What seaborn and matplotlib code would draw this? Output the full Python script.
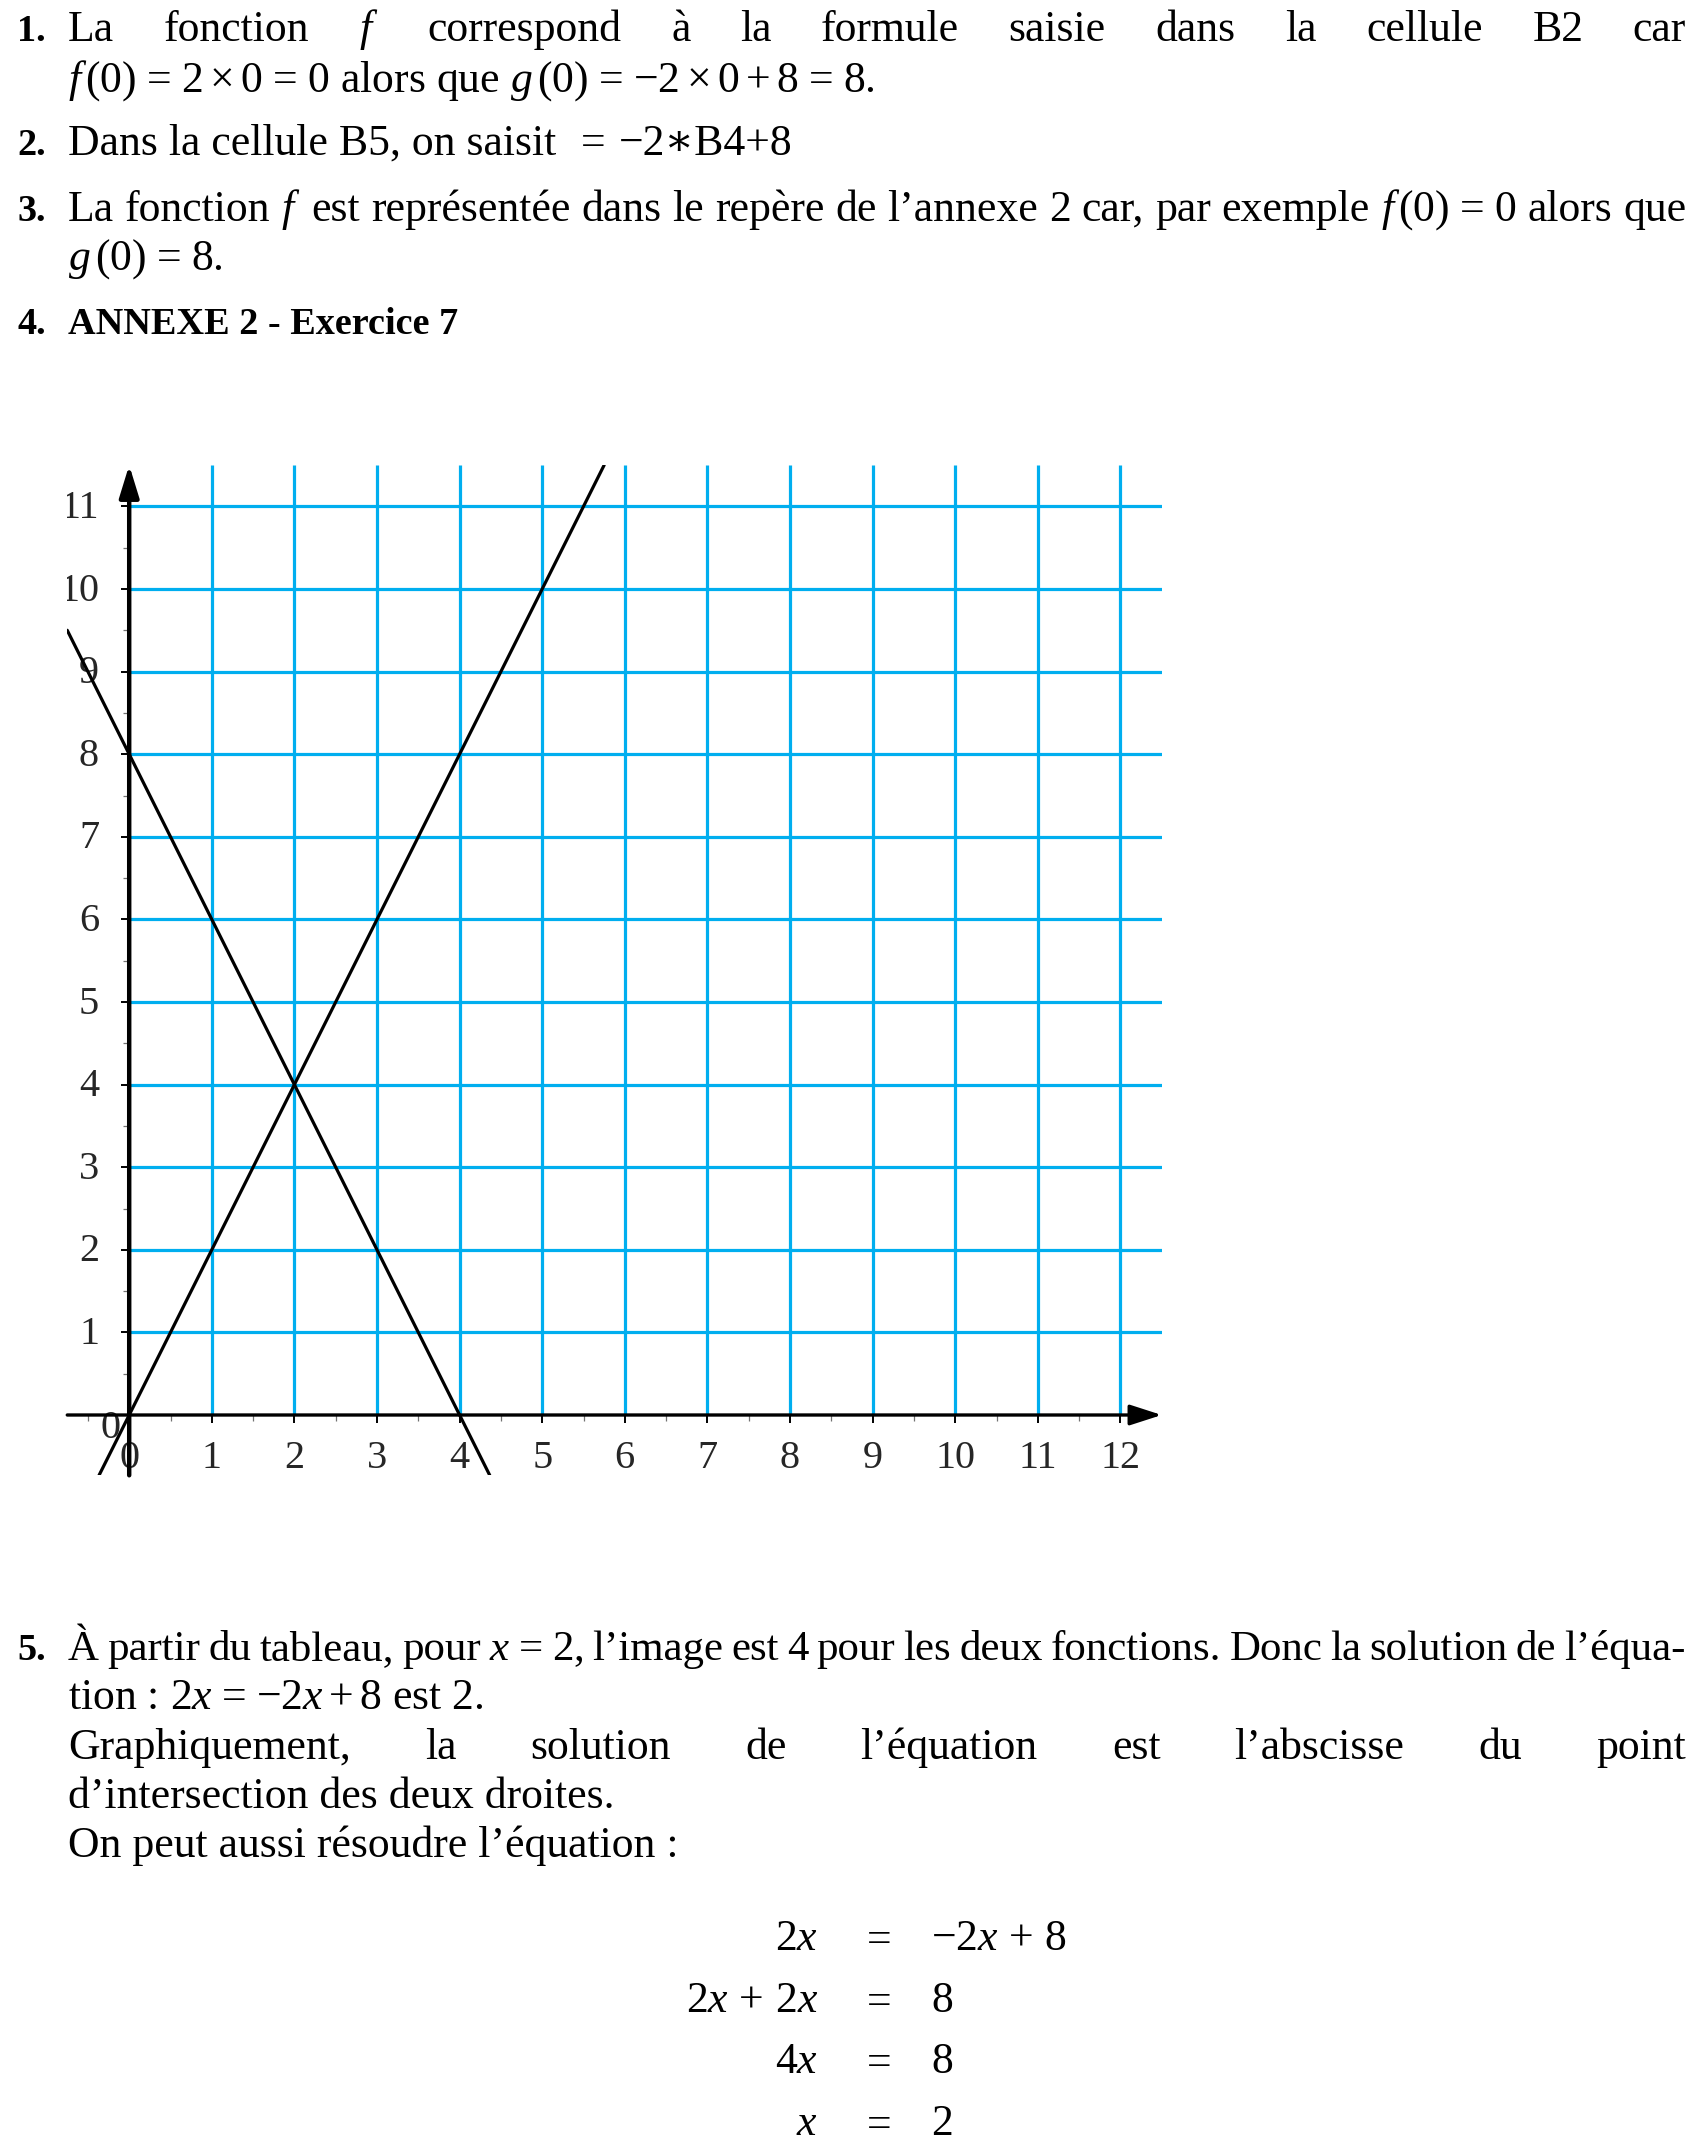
import matplotlib
matplotlib.use("Agg")
import matplotlib.pyplot as plt
import seaborn as sns
import numpy as np

sns.set_theme(style="white")
plt.rcParams["font.family"] = ["Liberation Serif", "DejaVu Serif"]
plt.rcParams["mathtext.fontset"] = "custom"
plt.rcParams["mathtext.rm"] = "Liberation Serif"
plt.rcParams["mathtext.it"] = "Liberation Serif:italic"
plt.rcParams["mathtext.bf"] = "Liberation Serif:bold"

# ---------------- data ----------------
grid_x = [1, 2, 3, 4, 5, 6, 7, 8, 9, 10, 11, 12]
grid_y = [1, 2, 3, 4, 5, 6, 7, 8, 9, 10, 11]
x_tick_labels = [0, 1, 2, 3, 4, 5, 6, 7, 8, 9, 10, 11, 12]
y_tick_labels = [0, 1, 2, 3, 4, 5, 6, 7, 8, 9, 10, 11]
x_minor = [-0.5, 0.5, 1.5, 2.5, 3.5, 4.5, 5.5, 6.5, 7.5, 8.5, 9.5, 10.5, 11.5]
y_minor = [0.5, 1.5, 2.5, 3.5, 4.5, 5.5, 6.5, 7.5, 8.5, 9.5, 10.5]
# f(x) = 2x  (end points read on the picture)
f_x = [-0.365, 5.75]
f_y = [-0.73, 11.5]
# g(x) = -2x + 8
g_x = [-0.75, 4.365]
g_y = [9.5, -0.73]

CYAN = "#00AEEF"
W, H, DPI = 1701, 2150, 100
FS = 31.5
BFS = 27.5
TFS = 29

fig = plt.figure(figsize=(W / DPI, H / DPI), dpi=DPI)
fig.patch.set_facecolor("white")
renderer = fig.canvas.get_renderer()


def put(x, y, s, size=FS, **kw):
    return fig.text(x / W, 1 - y / H, s, va="baseline", ha=kw.pop("ha", "left"),
                    fontsize=size, color="black", **kw)


def justify(y, tokens, x0=68, x1=1686, min_gap=8.0):
    size = FS
    ts = [put(0, y, tok, size=size) for tok in tokens]
    while True:
        ws = [t.get_window_extent(renderer).width for t in ts]
        gap = (x1 - x0 - sum(ws)) / (len(ts) - 1)
        if gap >= min_gap or size < FS * 0.85:
            break
        size *= 0.99
        for t in ts:
            t.set_fontsize(size)
    x = x0
    for t, w in zip(ts, ws):
        t.set_x(x / W)
        x += w + gap


NUMX = 17
EQ = r"\hspace{0.12}=\hspace{0.12}"
# ---- item 1
put(NUMX, 41, "1.", size=BFS, fontweight="bold")
justify(41, ["La", "fonction", "$f$", "correspond", "à", "la", "formule", "saisie",
             "dans", "la", "cellule", "B2", "car"])
put(68, 92, r"$f\,(0)" + EQ + r"2\times0" + EQ + r"0$ alors que $g\,(0)" + EQ +
    r"{-2}\times0+8" + EQ + r"8$.")
# ---- item 2
put(NUMX, 155, "2.", size=BFS, fontweight="bold")
put(68, 155, "Dans la cellule B5, on saisit")
put(581, 155, "=")
put(619, 155, "−2∗B4+8")
# ---- item 3
put(NUMX, 221, "3.", size=BFS, fontweight="bold")
justify(221, ["La", "fonction", "$f$", "est", "représentée", "dans", "le", "repère", "de",
              "l’annexe", "2", "car,", "par", "exemple", r"$f\,(0)" + EQ + "0$", "alors", "que"])
put(68, 270, r"$g\,(0)" + EQ + "8$.")
# ---- item 4
put(NUMX, 334, "4.", size=BFS, fontweight="bold")
put(68, 334, "ANNEXE 2 - Exercice 7", size=BFS, fontweight="bold")

# ---- item 5
put(NUMX, 1660, "5.", size=BFS, fontweight="bold")
justify(1660, ["À", "partir", "du", "tableau,", "pour", "$x" + EQ + "2$,", "l’image", "est", "4",
               "pour", "les", "deux", "fonctions.", "Donc", "la", "solution", "de", "l’équa-"])
put(68, 1709, r"tion : $2x" + EQ + r"{-2x}+8$ est 2.")
justify(1759, ["Graphiquement,", "la", "solution", "de", "l’équation", "est", "l’abscisse",
               "du", "point"])
put(68, 1808, "d’intersection des deux droites.")
put(68, 1857, "On peut aussi résoudre l’équation :")

eq_left = [r"$2x$", r"$2x\,+\,2x$", r"$4x$", r"$x$"]
eq_right = [r"$-2x\,+\,8$", r"$8$", r"$8$", r"$2$"]
eq_base = [1950, 2012, 2073, 2135]
for l, r, yb in zip(eq_left, eq_right, eq_base):
    put(818, yb, l, ha="right")
    put(875, yb, "$=$", ha="center")
    put(931, yb, r)

# ---------------- chart ----------------
x0p, x1p = 67.25, 1161.7
y0p, y1p = 1475.3, 465.1
ax = fig.add_axes([x0p / W, 1 - y0p / H, (x1p - x0p) / W, (y0p - y1p) / H])
ax.set_xlim(-0.75, 12.5)
ax.set_ylim(-0.73, 11.5)
ax.axis("off")

ax.vlines(grid_x, 0, 11.5, color=CYAN, lw=2.3, zorder=1)
ax.hlines(grid_y, 0, 12.5, color=CYAN, lw=2.3, zorder=1)

# ticks
ax.vlines(x_tick_labels, -0.1, 0, color="black", lw=1.4, zorder=3)
ax.vlines(x_minor, -0.07, 0, color="0.45", lw=0.9, zorder=3)
ax.hlines(y_tick_labels[1:], -0.1, 0, color="black", lw=1.4, zorder=3)
ax.hlines(y_minor, -0.07, 0, color="0.45", lw=0.9, zorder=3)

# axes with arrows
ax.annotate("", xy=(12.5, 0), xytext=(-0.75, 0),
            arrowprops=dict(arrowstyle="-|>,head_length=1.3,head_width=0.42",
                            mutation_scale=15, lw=2.4, color="black",
                            shrinkA=0, shrinkB=0), zorder=4)
ax.annotate("", xy=(0, 11.5), xytext=(0, -0.73),
            arrowprops=dict(arrowstyle="-|>,head_length=1.3,head_width=0.4",
                            mutation_scale=15, lw=3.2, color="black",
                            shrinkA=0, shrinkB=0), zorder=4)

# function lines
sns.lineplot(x=f_x, y=f_y, ax=ax, color="black", lw=2.3, estimator=None, sort=False, zorder=5)
sns.lineplot(x=g_x, y=g_y, ax=ax, color="black", lw=2.3, estimator=None, sort=False, zorder=5)

# tick labels
for v in x_tick_labels:
    ax.text(v, -0.64, str(v), ha="center", va="baseline", fontsize=TFS, zorder=2)
for v in y_tick_labels:
    if v > 0:
        ax.text(-0.365, v - 0.14, str(v), ha="right", va="baseline", fontsize=TFS,
                clip_on=True, zorder=2)
    else:
        ax.text(-0.1, -0.28, str(v), ha="right", va="baseline", fontsize=TFS,
                clip_on=True, zorder=2)

fig.savefig("out.png", dpi=DPI, facecolor="white")
